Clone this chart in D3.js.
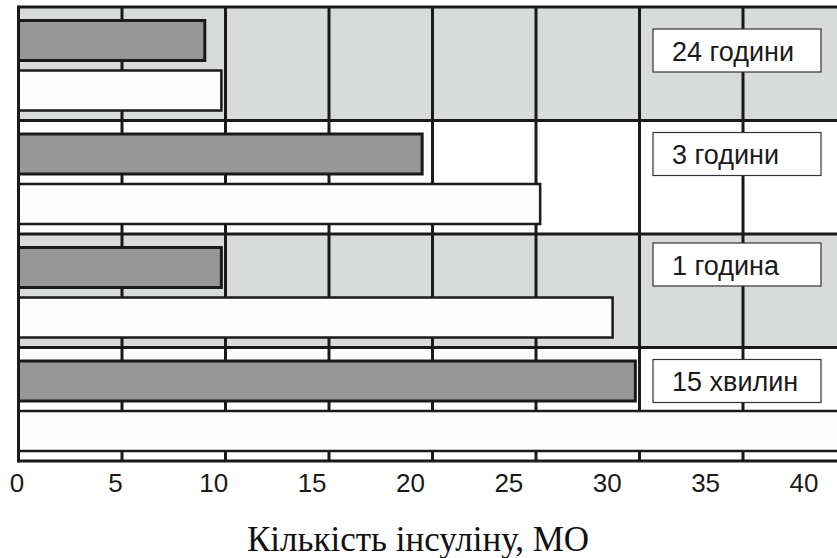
<!DOCTYPE html>
<html>
<head>
<meta charset="utf-8">
<script src="https://cdn.jsdelivr.net/npm/d3@7"></script>
<style>
  html, body { margin: 0; padding: 0; background: #fff; }
  svg { display: block; }
</style>
</head>
<body>
<svg id="chart" width="837" height="558"></svg>
<script>
// ---- data ----
const categories = ["24 години", "3 години", "1 година", "15 хвилин"];
const seriesNames = ["dark", "light"];
const darkValues  = [9.0, 19.5, 9.8, 29.8];
const lightValues = [9.8, 25.2, 28.7, 41];
const tickValues  = [0, 5, 10, 15, 20, 25, 30, 35, 40];
const tickLabels  = ["0", "5", "10", "15", "20", "25", "30", "35", "40"];
const axisTitle   = "Кількість інсуліну, МО";

// ---- layout ----
const W = 837, H = 558;
const plotTop = 7, plotBottom = 461, plotLeft = 18.5;
const svg = d3.select("#chart");

const x = d3.scaleLinear().domain([0, 40]).range([plotLeft, plotLeft + 8 * 103.5]);
const xLabel = d3.scaleLinear().domain([0, 40]).range([17, 804]);
const y = d3.scaleBand().domain(categories).range([plotTop, plotBottom]).padding(0);
const yInner = d3.scaleBand().domain(seriesNames).range([13.5, 103.5]).paddingInner(0.2).paddingOuter(0);

const bandFill = ["#d9dada", "#ffffff", "#d9dada", "#ffffff"];
const ink = "#1a1a1a";

svg.append("defs").append("clipPath").attr("id", "plotclip")
  .append("rect").attr("x", 0).attr("y", 0).attr("width", W).attr("height", plotBottom + 2);

const plot = svg.append("g").attr("clip-path", "url(#plotclip)");

// band backgrounds
plot.selectAll("rect.band").data(categories).join("rect")
  .attr("class", "band")
  .attr("x", x(0)).attr("y", d => y(d))
  .attr("width", W - x(0)).attr("height", y.bandwidth())
  .attr("fill", (d, i) => bandFill[i]);

// vertical gridlines
plot.selectAll("line.grid").data(tickValues.filter(v => v > 0)).join("line")
  .attr("class", "grid")
  .attr("x1", d => x(d)).attr("x2", d => x(d))
  .attr("y1", plotTop).attr("y2", plotBottom)
  .attr("stroke", ink).attr("stroke-width", 3);

// band separators
plot.selectAll("line.sep").data(categories.slice(1)).join("line")
  .attr("class", "sep")
  .attr("x1", x(0)).attr("x2", W)
  .attr("y1", d => y(d)).attr("y2", d => y(d))
  .attr("stroke", ink).attr("stroke-width", 3);

// bars
const rows = categories.map((c, i) => ({ c, dark: darkValues[i], light: lightValues[i] }));
const g = plot.selectAll("g.row").data(rows).join("g")
  .attr("class", "row")
  .attr("transform", d => `translate(0,${y(d.c)})`);

g.append("rect")
  .attr("x", x(0)).attr("y", yInner("dark"))
  .attr("width", d => x(d.dark) - x(0)).attr("height", yInner.bandwidth())
  .attr("fill", "#979797").attr("stroke", ink).attr("stroke-width", 3);

g.append("rect")
  .attr("x", x(0)).attr("y", yInner("light"))
  .attr("width", d => x(d.light) - x(0)).attr("height", yInner.bandwidth())
  .attr("fill", "#fdfdfd").attr("stroke", ink).attr("stroke-width", 2.5);

// frame
plot.append("line").attr("x1", x(0)).attr("x2", W).attr("y1", plotTop).attr("y2", plotTop)
  .attr("stroke", ink).attr("stroke-width", 3);
plot.append("line").attr("x1", x(0)).attr("x2", W).attr("y1", plotBottom).attr("y2", plotBottom)
  .attr("stroke", ink).attr("stroke-width", 3);
plot.append("line").attr("x1", x(0)).attr("x2", x(0)).attr("y1", plotTop - 1.5).attr("y2", plotBottom + 1.5)
  .attr("stroke", ink).attr("stroke-width", 3);

// category label boxes
const boxShift = [10, 0, -3, 0];
const boxes = svg.selectAll("g.lbl").data(categories).join("g")
  .attr("class", "lbl")
  .attr("transform", (d, i) => `translate(653,${y(d) + yInner("dark") + yInner.bandwidth() / 2 - 21.5 + boxShift[i]})`);
boxes.append("rect")
  .attr("x", 0).attr("y", 0).attr("width", 168).attr("height", 43)
  .attr("fill", "#fff").attr("stroke", "#333").attr("stroke-width", 1.2);
boxes.append("text")
  .attr("x", 19).attr("y", 31.5)
  .attr("font-family", "'Liberation Sans', Arial, sans-serif")
  .attr("font-size", 27).attr("fill", ink)
  .text(d => d);

// tick labels
svg.selectAll("text.tick").data(tickValues).join("text")
  .attr("class", "tick")
  .attr("x", d => xLabel(d)).attr("y", 492)
  .attr("text-anchor", "middle")
  .attr("font-family", "'Liberation Sans', Arial, sans-serif")
  .attr("font-size", 26).attr("fill", ink)
  .text((d, i) => tickLabels[i]);

// axis title
svg.append("text")
  .attr("x", 418).attr("y", 551)
  .attr("text-anchor", "middle")
  .attr("font-family", "'Liberation Serif', 'Times New Roman', serif")
  .attr("font-size", 35).attr("fill", "#111")
  .text(axisTitle);
</script>
</body>
</html>
